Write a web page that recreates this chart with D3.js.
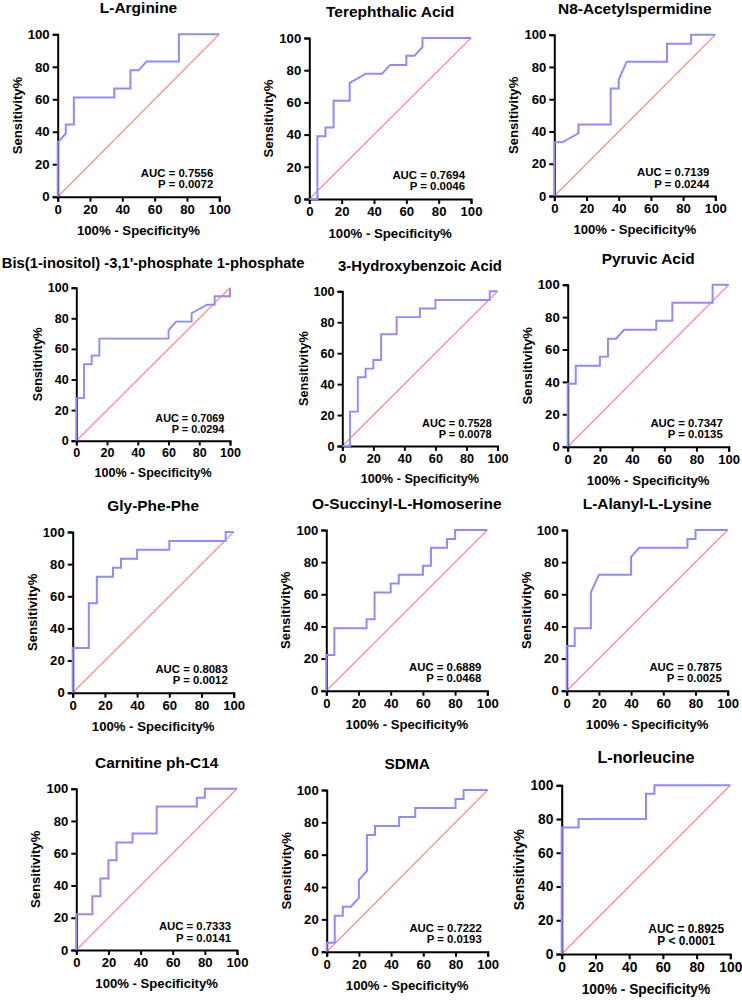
<!DOCTYPE html>
<html>
<head>
<meta charset="utf-8">
<script src="https://cdn.jsdelivr.net/npm/d3@7/dist/d3.min.js"></script>
<style>
  html, body { margin: 0; padding: 0; background: #fff; }
  svg { display: block; }
  text { font-family: "Liberation Sans", Arial, Helvetica, sans-serif; font-weight: bold; fill: #000; }
</style>
</head>
<body>
<svg id="chart" width="742" height="1000"></svg>
<script>
// ---------------- data ----------------
const titles = [
  "L-Arginine", "Terephthalic Acid", "N8-Acetylspermidine",
  "Bis(1-inositol) -3,1'-phosphate 1-phosphate", "3-Hydroxybenzoic Acid", "Pyruvic Acid",
  "Gly-Phe-Phe", "O-Succinyl-L-Homoserine", "L-Alanyl-L-Lysine",
  "Carnitine ph-C14", "SDMA", "L-norleucine"
];
const aucLabels = [
  "AUC = 0.7556", "AUC = 0.7694", "AUC = 0.7139",
  "AUC = 0.7069", "AUC = 0.7528", "AUC = 0.7347",
  "AUC = 0.8083", "AUC = 0.6889", "AUC = 0.7875",
  "AUC = 0.7333", "AUC = 0.7222", "AUC = 0.8925"
];
const pLabels = [
  "P = 0.0072", "P = 0.0046", "P = 0.0244",
  "P = 0.0294", "P = 0.0078", "P = 0.0135",
  "P = 0.0012", "P = 0.0468", "P = 0.0025",
  "P = 0.0141", "P = 0.0193", "P < 0.0001"
];
// 100% - Specificity% (x) and Sensitivity% (y) of each ROC curve
const rocX = [
  [0,0,5,5,10,10,35,35,45,45,50,55,75,75,100],
  [0,5,5,10,10,15,15,25,25,35,45,50,60,60,65,70,70,100],
  [0,0,5,15,15,35,35,40,40,45,70,70,85,85,100],
  [0,0,5,5,10,10,15,15,60,60,65,75,75,85,90,90,100,100],
  [0,5,5,10,10,15,15,20,20,25,25,35,35,50,50,60,60,95,95,100],
  [0,0,5,5,20,20,25,25,30,35,55,55,65,65,90,90,100],
  [0,0,10,10,15,15,25,25,30,30,40,40,60,60,95,95,100],
  [0,0,5,5,25,25,30,30,40,40,45,45,60,60,65,65,75,75,80,80,100],
  [0,0,5,5,15,15,20,40,40,45,75,75,80,80,100],
  [0,0,10,10,15,15,20,20,25,25,35,35,50,50,75,75,80,80,100],
  [0,0,5,5,10,10,15,20,20,25,25,30,30,45,45,55,55,80,80,85,85,100],
  [0,0,10,10,50,50,55,55,100]
];
const rocY = [
  [0,33.3,38.9,44.4,44.4,61.1,61.1,66.7,66.7,77.8,77.8,83.3,83.3,100,100],
  [0,0,38.9,38.9,44.4,44.4,61.1,61.1,72.2,77.8,77.8,83.3,83.3,88.9,88.9,94.4,100,100],
  [0,33.3,33.3,38.9,44.4,44.4,66.7,66.7,72.2,83.3,83.3,94.4,94.4,100,100],
  [0,27.8,27.8,50,50,55.6,55.6,66.7,66.7,72.2,77.8,77.8,83.3,88.9,88.9,94.4,94.4,100],
  [0,0,22.2,22.2,44.4,44.4,50,50,55.6,55.6,72.2,72.2,83.3,83.3,88.9,88.9,94.4,94.4,100,100],
  [0,38.9,38.9,50,50,55.6,55.6,66.7,66.7,72.2,72.2,77.8,77.8,88.9,88.9,100,100],
  [0,27.8,27.8,55.6,55.6,72.2,72.2,77.8,77.8,83.3,83.3,88.9,88.9,94.4,94.4,100,100],
  [0,22.2,22.2,38.9,38.9,44.4,44.4,61.1,61.1,66.7,66.7,72.2,72.2,77.8,77.8,88.9,88.9,94.4,94.4,100,100],
  [0,27.8,27.8,38.9,38.9,61.1,72.2,72.2,83.3,88.9,88.9,94.4,94.4,100,100],
  [0,22.2,22.2,33.3,33.3,44.4,44.4,55.6,55.6,66.7,66.7,72.2,72.2,88.9,88.9,94.4,94.4,100,100],
  [0,5.6,5.6,22.2,22.2,27.8,27.8,33.3,44.4,50,72.2,72.2,77.8,77.8,83.3,83.3,88.9,88.9,94.4,94.4,100,100],
  [0,75,75,80,80,95,95,100,100]
];
const tickValues = [0, 20, 40, 60, 80, 100];
const xAxisTitle = "100% - Specificity%";
const yAxisTitle = "Sensitivity%";

// ---------------- layout (plot frames: left, top, right, bottom) ----------------
const frames = [
  [57.7, 34.3, 219.3, 196.7],
  [309.3, 38, 471, 199],
  [554.3, 34.7, 715.3, 196],
  [76.3, 287.7, 230, 440.7],
  [342.3, 291.3, 497.5, 446],
  [567.7, 284.7, 728.7, 446.7],
  [72.7, 532, 233.7, 692.7],
  [326.3, 530, 487.3, 690.7],
  [566.7, 530, 727.7, 690.7],
  [76.3, 788.7, 237, 950],
  [326.7, 790, 487.7, 951.7],
  [561.7, 785.3, 730.3, 954]
];
const centeredP = [false,false,false,false,false,false,false,false,false,false,false,true];

const curveColor = "#8c8cff";
const diagColor = "#ff9090";

const svg = d3.select("#chart");

titles.forEach((title, i) => {
  const [L, T, R, B] = frames[i];
  const w = R - L, h = B - T;
  const s = w / 161.5;
  const g = svg.append("g").attr("transform", `translate(${L},${T})`);
  const x = d3.scaleLinear().domain([0, 100]).range([0, w]);
  const y = d3.scaleLinear().domain([0, 100]).range([h, 0]);

  // diagonal reference line
  g.append("path")
    .attr("d", d3.line()([[x(0), y(0)], [x(100), y(100)]]))
    .attr("stroke", diagColor).attr("stroke-width", 1.3).attr("fill", "none");

  // axes
  const fs = 13.2 * s;
  const xa = g.append("g").attr("transform", `translate(0,${h})`)
    .call(d3.axisBottom(x).tickValues(tickValues).tickSizeOuter(0).tickSize(5 * s).tickPadding(3 * s));
  const ya = g.append("g")
    .call(d3.axisLeft(y).tickValues(tickValues).tickSizeOuter(0).tickSize(5 * s).tickPadding(3 * s));
  [xa, ya].forEach(a => {
    a.select(".domain").attr("stroke", "#000").attr("stroke-width", 2 * s);
    a.selectAll(".tick line").attr("stroke", "#000").attr("stroke-width", 2 * s);
    a.selectAll(".tick text").attr("font-size", fs).attr("fill", "#000")
      .attr("font-family", "'Liberation Sans', Arial, sans-serif").attr("font-weight", "bold");
  });

  // ROC curve
  const pts = rocX[i].map((v, k) => [x(v), y(rocY[i][k])]);
  g.append("path")
    .attr("d", d3.line()(pts))
    .attr("stroke", curveColor).attr("stroke-width", 2 * s)
    .attr("fill", "none").attr("stroke-linejoin", "miter");

  // title
  g.append("text").attr("x", w / 2).attr("y", -21 * s)
    .attr("text-anchor", "middle").attr("font-size", 15.5 * s).text(title);

  // axis titles
  g.append("text").attr("x", w / 2).attr("y", h + 38.5 * s)
    .attr("text-anchor", "middle").attr("font-size", 13.2 * s).text(xAxisTitle);
  g.append("text")
    .attr("transform", `translate(${-36 * s},${h / 2}) rotate(-90)`)
    .attr("text-anchor", "middle").attr("font-size", 13.2 * s).text(yAxisTitle);

  // AUC / P annotation
  const auc = g.append("text").attr("x", w - 6 * s).attr("y", h - 20 * s)
    .attr("text-anchor", "end").attr("font-size", 11.4 * s).text(aucLabels[i]);
  if (centeredP[i]) {
    const aw = auc.node().getComputedTextLength();
    g.append("text").attr("x", w - 6 * s - aw / 2).attr("y", h - 8.5 * s)
      .attr("text-anchor", "middle").attr("font-size", 11.4 * s).text(pLabels[i]);
  } else {
    g.append("text").attr("x", w - 6 * s).attr("y", h - 8.5 * s)
      .attr("text-anchor", "end").attr("font-size", 11.4 * s).text(pLabels[i]);
  }
});
</script>
</body>
</html>
